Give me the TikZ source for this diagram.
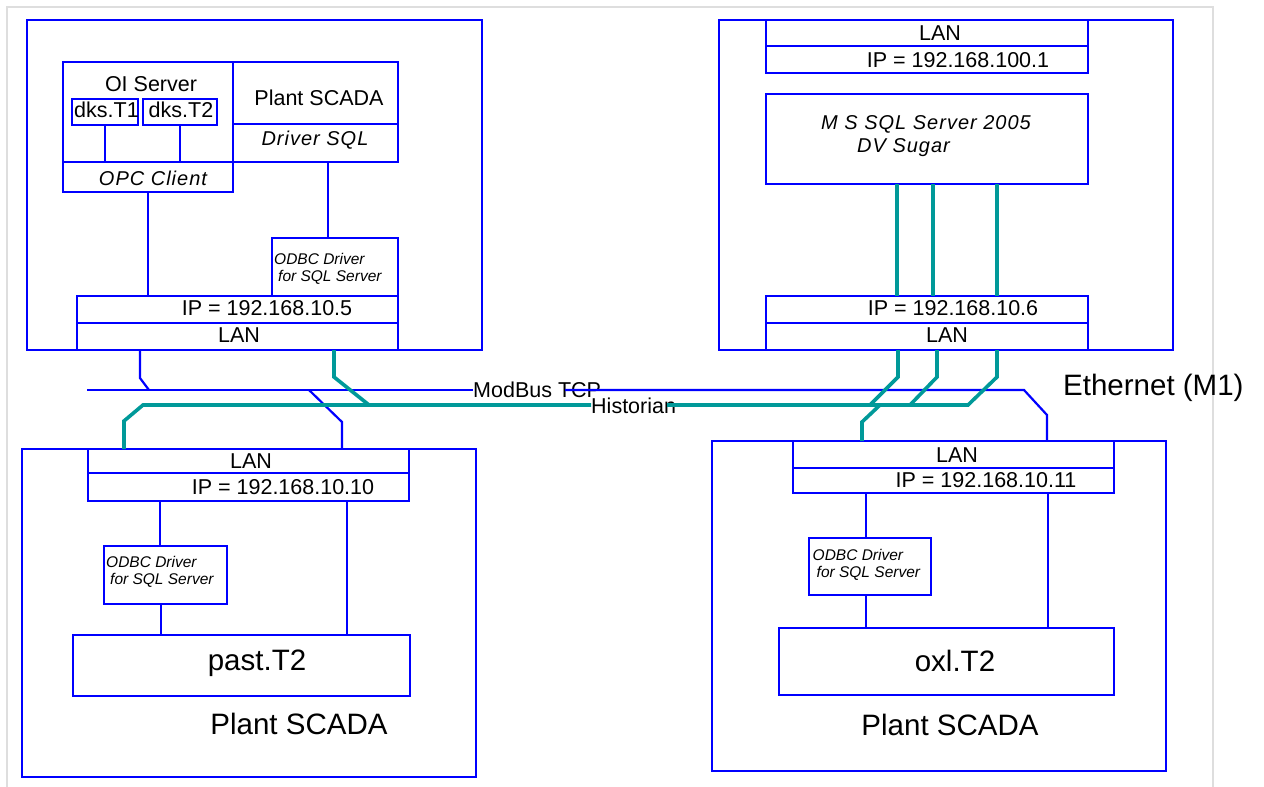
\documentclass[tikz,border=0pt]{standalone}
\usepackage{fontspec}
\setmainfont{Liberation Sans}
\definecolor{netblue}{RGB}{0,0,255}
\definecolor{histteal}{RGB}{0,153,153}
\definecolor{framegray}{RGB}{222,222,222}

\begin{document}
\begin{tikzpicture}[x=1pt,y=-1pt,
  box/.style={draw=netblue,line width=2.8pt,inner sep=0pt,outer sep=0pt},
  txt/.style={inner sep=0pt,font=\fontsize{21.5}{24}\selectfont},
  big/.style={inner sep=0pt,font=\fontsize{29.5}{32}\selectfont},
  itl/.style={inner sep=0pt,font=\fontsize{20}{23}\selectfont\itshape\addfontfeature{LetterSpace=5}},
  odbc/.style={inner sep=0pt,anchor=west,align=left,font=\fontsize{15.5}{16.5}\selectfont\itshape},
  link/.style={draw=netblue,line width=2.8pt},
  bus/.style={draw=netblue,line width=2.2pt},
  hist/.style={draw=histteal,line width=3.6pt}]
\useasboundingbox (0,0) rectangle (1264,787);
\draw[framegray,line width=1.5pt] (7,787) -- (7,7) -- (1213,7) -- (1213,787);

% station with OI Server (top left)
\node[box,minimum width=455,minimum height=330] (stA) at (254.5,185) {};
\node[box,minimum width=170,minimum height=100] (oisrv) at (148,112) {};
\node[box,minimum width=170,minimum height=30] (opc) at (148,177) {};
\node[box,minimum width=165,minimum height=62] (scadaA) at (315.5,93) {};
\node[box,minimum width=165,minimum height=38] (drvsql) at (315.5,143) {};
\node[box,minimum width=66,minimum height=26] (dksA) at (105,112) {};
\node[box,minimum width=74,minimum height=26] (dksB) at (180,112) {};
\node[box,minimum width=126,minimum height=58] (odbcA) at (335,267) {};
\node[box,minimum width=321,minimum height=27] (ipA) at (237.5,309.5) {};
\node[box,minimum width=321,minimum height=27] (lanA) at (237.5,336.5) {};
\node[txt] (oisrvT) at (151,84) {OI Server};
\node[txt] (scadaAT) at (319,98) {Plant SCADA};
\node[txt] (dksAT) at (106.5,110) {dks.T1};
\node[txt] (dksBT) at (181,110) {dks.T2};
\node[itl] (drvsqlT) at (315,140) {Driver SQL};
\node[itl] (opcT) at (153,178) {OPC Client};
\node[odbc] (odbcAT) at (274,269) {ODBC Driver\\\hspace*{4pt}for SQL Server};
\node[txt] (ipAT) at (267,308) {IP = 192.168.10.5};
\node[txt] (lanAT) at (239,335) {LAN};
\draw[link] (dksA.south) -- (dksA.south |- opc.north);
\draw[link] (dksB.south) -- (dksB.south |- opc.north);
\draw[link] (opc.south) -- (opc.south |- ipA.north);
\draw[link] (328,0 |- drvsql.south) -- (328,0 |- odbcA.north);

% SQL server (top right)
\node[box,minimum width=454,minimum height=330] (stB) at (946,185) {};
\node[box,minimum width=322,minimum height=26] (lanT) at (927,33) {};
\node[box,minimum width=322,minimum height=27] (ipT) at (927,59.5) {};
\node[box,minimum width=322,minimum height=90] (sqlsrv) at (927,139) {};
\node[box,minimum width=322,minimum height=27] (ipB) at (927,309.5) {};
\node[box,minimum width=322,minimum height=27] (lanB) at (927,336.5) {};
\node[txt] (lanTT) at (940,33) {LAN};
\node[txt] (ipTT) at (958,60) {IP = 192.168.100.1};
\node[itl,anchor=west] (sqlT) at (821,124) {M S SQL Server 2005};
\node[itl,anchor=west] (sugarT) at (857,148) {DV Sugar};
\node[txt] (ipBT) at (953,308) {IP = 192.168.10.6};
\node[txt] (lanBT) at (947,335) {LAN};
\foreach \px in {897,933,997}
  \draw[hist] (\px,0 |- sqlsrv.south) -- (\px,0 |- ipB.north);

% past station (bottom left)
\node[box,minimum width=454,minimum height=328] (stC) at (249,613) {};
\node[box,minimum width=321,minimum height=24] (lanC) at (248.5,461) {};
\node[box,minimum width=321,minimum height=28] (ipC) at (248.5,487) {};
\node[box,minimum width=123,minimum height=58] (odbcC) at (165.5,575) {};
\node[box,minimum width=337,minimum height=61] (past) at (241.5,665.5) {};
\node[txt] (lanCT) at (251,461) {LAN};
\node[txt] (ipCT) at (283,487) {IP = 192.168.10.10};
\node[odbc] (odbcCT) at (106,572) {ODBC Driver\\\hspace*{4pt}for SQL Server};
\node[big] (pastT) at (257,663) {past.T2};
\node[big] (scadaCT) at (299,724) {Plant SCADA};
\draw[link] (160,0 |- ipC.south) -- (160,0 |- odbcC.north);
\draw[link] (161,0 |- odbcC.south) -- (161,0 |- past.north);
\draw[link] (347,0 |- ipC.south) -- (347,0 |- past.north);

% oxl station (bottom right)
\node[box,minimum width=454,minimum height=330] (stD) at (939,606) {};
\node[box,minimum width=321,minimum height=27] (lanD) at (953.5,454.5) {};
\node[box,minimum width=321,minimum height=25] (ipD) at (953.5,480.5) {};
\node[box,minimum width=122,minimum height=57] (odbcD) at (870,566.5) {};
\node[box,minimum width=335,minimum height=67] (oxl) at (946.5,661.5) {};
\node[txt] (lanDT) at (957,455) {LAN};
\node[txt] (ipDT) at (986,480) {IP = 192.168.10.11};
\node[odbc] (odbcDT) at (812.5,565) {ODBC Driver\\\hspace*{4pt}for SQL Server};
\node[big] (oxlT) at (955,661) {oxl.T2};
\node[big] (scadaDT) at (950,725) {Plant SCADA};
\draw[link] (866,0 |- ipD.south) -- (866,0 |- odbcD.north);
\draw[link] (866,0 |- odbcD.south) -- (866,0 |- oxl.north);
\draw[link] (1048,0 |- ipD.south) -- (1048,0 |- oxl.north);

% Ethernet (M1)
\coordinate (mbL) at (87,390);
\coordinate (mbR) at (565,390);
\node[txt,anchor=west] (mbT) at (473,390) {ModBus TCP};
\draw[bus] (mbL) -- (mbT.west);
\draw[bus] (mbR) -- (1024,390) -- (1047,415) -- (1047,0 |- lanD.north);
\draw[bus] (140,0 |- lanA.south) -- (140,378) -- (149,390);
\draw[bus] (309,390) -- (342,422) -- (342,0 |- lanC.north);
\coordinate (hsR) at (667,405);
\node[txt,anchor=west] (hsT) at (591,406) {Historian};
\draw[hist] (124,0 |- lanC.north) -- (124,421) -- (143,405) -- (hsT.west |- hsR);
\draw[hist] (hsR) -- (968,405) -- (997,377) -- (997,0 |- lanB.south);
\draw[hist] (334,0 |- lanA.south) -- (334,377) -- (369,405);
\draw[hist] (898,0 |- lanB.south) -- (898,377) -- (870,405);
\draw[hist] (937,0 |- lanB.south) -- (937,377) -- (910,405);
\draw[hist] (880,405) -- (862,422) -- (862,0 |- lanD.north);
\node[big,anchor=west] (ethT) at (1063,388) {Ethernet (M1)};
\end{tikzpicture}
\end{document}
